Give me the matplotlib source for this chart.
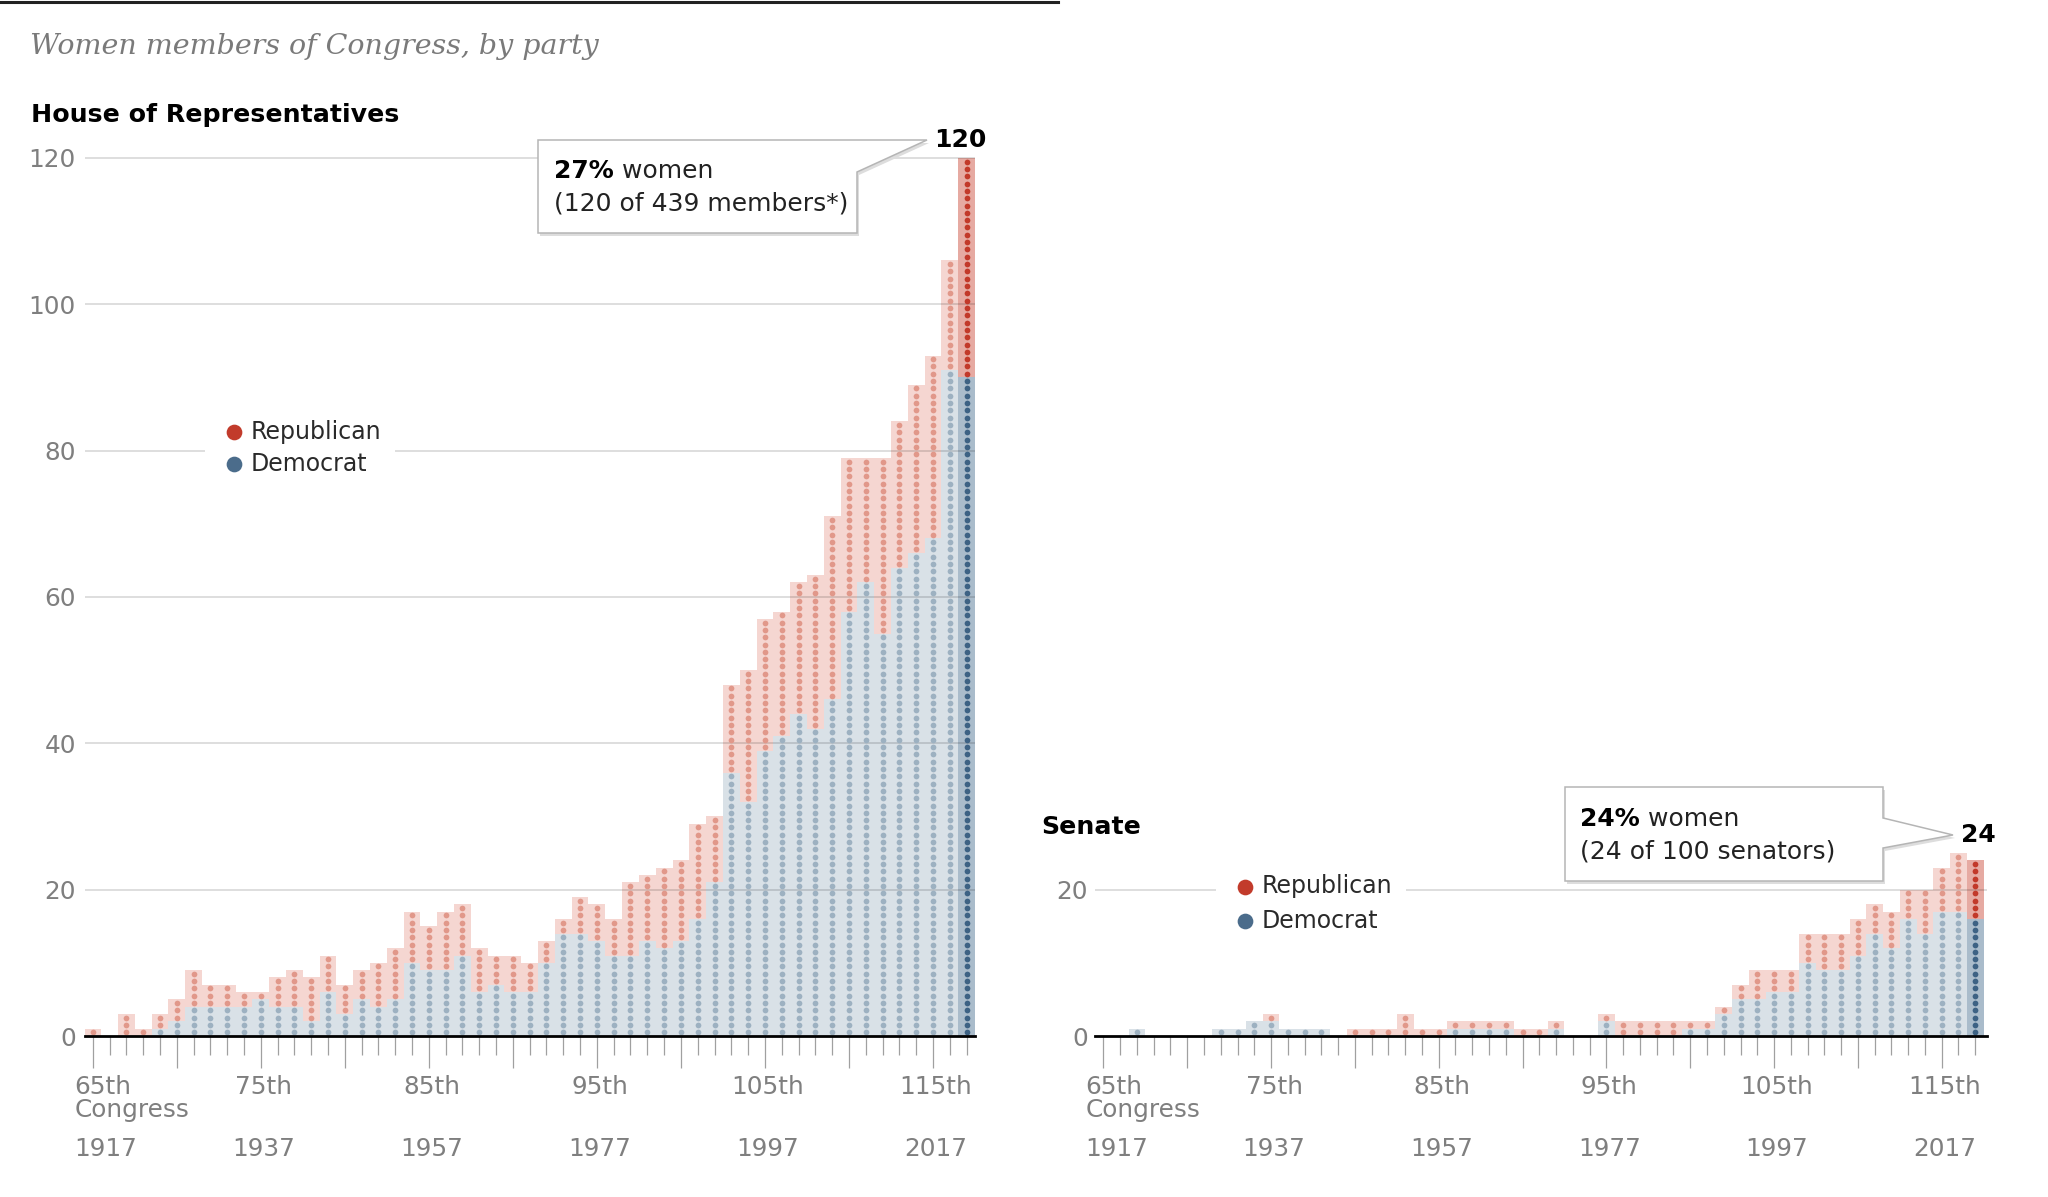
import matplotlib
matplotlib.use("Agg")
import matplotlib.pyplot as plt
from matplotlib.patches import Polygon, Rectangle
from matplotlib.lines import Line2D
import numpy as np

# ---------------- data ----------------
congresses = list(range(65, 118))
house_dem = [0, 0, 0, 0, 1, 2, 4, 4, 4, 4, 5, 4, 4, 2, 6, 3, 5, 4, 5, 10,
             9, 9, 11, 6, 7, 6, 6, 10, 14, 14, 13, 11, 11, 13, 12, 13, 16, 21, 36, 32,
             39, 41, 44, 42, 46, 58, 62, 55, 64, 66, 68, 91, 90]
house_rep = [1, 0, 3, 1, 2, 3, 5, 3, 3, 2, 1, 4, 5, 6, 5, 4, 4, 6, 7, 7,
             6, 8, 7, 6, 4, 5, 4, 3, 2, 5, 5, 5, 10, 9, 11, 11, 13, 9, 12, 18,
             18, 17, 18, 21, 25, 21, 17, 24, 20, 23, 25, 15, 30]
senate_dem = [0, 0, 1, 0, 0, 0, 0, 1, 1, 2, 2, 1, 1, 1, 0, 0, 0, 0, 0, 0,
              0, 1, 1, 1, 1, 0, 0, 1, 0, 0, 2, 0, 0, 0, 0, 1, 1, 3, 5, 5,
              6, 6, 10, 9, 9, 11, 14, 12, 16, 14, 17, 17, 16]
senate_rep = [0, 0, 0, 0, 0, 0, 0, 0, 0, 0, 1, 0, 0, 0, 0, 1, 1, 1, 3, 1,
              1, 1, 1, 1, 1, 1, 1, 1, 0, 0, 1, 2, 2, 2, 2, 1, 1, 1, 2, 4,
              3, 3, 4, 5, 5, 5, 4, 5, 4, 6, 6, 8, 8]
label_congresses = [65, 75, 85, 95, 105, 115]
label_ordinals = ["65th", "75th", "85th", "95th", "105th", "115th"]
label_years = ["1917", "1937", "1957", "1977", "1997", "2017"]
house_yticks = [0, 20, 40, 60, 80, 100, 120]
senate_yticks = [0, 20]

# ---------------- style ----------------
W, H, DPI = 2048, 1197, 100
PX = 7.317  # pixels per member on y

R_BG, R_DOT = "#f5d6d1", "#e1988a"
D_BG, D_DOT = "#d9e1e7", "#9db1c1"
R_BG_L, R_DOT_L = "#e6aaa2", "#c2392a"
D_BG_L, D_DOT_L = "#aabccb", "#3d6284"
LEG_R, LEG_D = "#c23b2b", "#4b6c8b"
GRAY = "#7f7f7f"
DOT_S = 17

plt.rcParams["font.family"] = ["DejaVu Sans"]

fig = plt.figure(figsize=(W / DPI, H / DPI), dpi=DPI)
fig.patch.set_facecolor("white")


def fx(x):
    return x / W


def fy(y):
    return 1 - y / H


def make_ax(left, right, xlim, ymax, yticks, ypad):
    base = 1036
    ax = fig.add_axes([fx(left), fy(base), (right - left) / W, ymax * PX / H])
    ax.set_xlim(*xlim)
    ax.set_ylim(0, ymax)
    for s in ax.spines.values():
        s.set_visible(False)
    ax.set_yticks(yticks)
    ax.set_yticklabels([str(v) for v in yticks])
    ax.tick_params(axis="y", length=0, pad=ypad, labelsize=17.8, labelcolor=GRAY)
    ax.set_xticks([c for c in congresses if (c - 65) % 5 == 0])
    ax.set_xticks(congresses, minor=True)
    ax.set_xticklabels([])
    ax.tick_params(axis="x", which="major", length=23, width=0.9, color="#a0a0a0")
    ax.tick_params(axis="x", which="minor", length=13.5, width=0.9, color="#a0a0a0")
    ax.set_facecolor("none")
    return ax


def draw_bars(ax, dem, rep):
    x = np.array(congresses)
    dem = np.array(dem)
    rep = np.array(rep)
    n = len(x)
    dbg = [D_BG] * (n - 1) + [D_BG_L]
    rbg = [R_BG] * (n - 1) + [R_BG_L]
    ax.bar(x, dem, width=1.0, color=dbg, linewidth=0, zorder=1)
    ax.bar(x, rep, bottom=dem, width=1.0, color=rbg, linewidth=0, zorder=1)
    for i, (xi, d, r) in enumerate(zip(x, dem, rep)):
        last = i == n - 1
        if d:
            ax.scatter(np.full(d, xi), np.arange(d) + 0.5, s=DOT_S, linewidths=0,
                       color=D_DOT_L if last else D_DOT, zorder=3)
        if r:
            ax.scatter(np.full(r, xi), np.arange(d, d + r) + 0.5, s=DOT_S, linewidths=0,
                       color=R_DOT_L if last else R_DOT, zorder=3)


def decorate(ax, yticks):
    for v in yticks[1:]:
        ax.axhline(v, color="black", alpha=0.17, lw=1.1, zorder=2)
    ax.axhline(0, color="black", lw=2.0, zorder=5, clip_on=False)
    for c, o, yr in zip(label_congresses, label_ordinals, label_years):
        first = c == congresses[0]
        dx = -18 if first else 3
        ha = "left" if first else "center"
        ax.annotate(o, xy=(c, 0), xycoords=("data", "axes fraction"),
                    xytext=(dx, -51), textcoords="offset pixels", ha=ha, va="center",
                    fontsize=17.8, color=GRAY)
        if first:
            ax.annotate("Congress", xy=(c, 0), xycoords=("data", "axes fraction"),
                        xytext=(dx, -74), textcoords="offset pixels", ha=ha, va="center",
                        fontsize=17.8, color=GRAY)
        ax.annotate(yr, xy=(c, 0), xycoords=("data", "axes fraction"),
                    xytext=(dx, -113), textcoords="offset pixels", ha=ha, va="center",
                    fontsize=17.8, color=GRAY)


# ---------------- House ----------------
axh = make_ax(85, 975, (64.54, 117.5), 121, house_yticks, 6.5)
draw_bars(axh, house_dem, house_rep)
decorate(axh, house_yticks)
axh.annotate(str(house_dem[-1] + house_rep[-1]), xy=(congresses[-1], 120),
             xytext=(-6, 18), textcoords="offset pixels", ha="center", va="center",
             fontsize=18, fontweight="bold", color="black", annotation_clip=False)

# ---------------- Senate ----------------
axs = make_ax(1095, 1987, (64.5, 117.7), 26, senate_yticks, 5.0)
draw_bars(axs, senate_dem, senate_rep)
decorate(axs, senate_yticks)
axs.annotate(str(senate_dem[-1] + senate_rep[-1]), xy=(congresses[-1], 24),
             xytext=(3, 25), textcoords="offset pixels", ha="center", va="center",
             fontsize=18, fontweight="bold", color="black", annotation_clip=False)

# ---------------- titles ----------------
fig.add_artist(Line2D([0, fx(1058)], [fy(1.5), fy(1.5)], color="#222222", lw=2.2,
                      transform=fig.transFigure))
fig.text(fx(30), fy(46), "Women members of Congress, by party", fontsize=20.5,
         family="DejaVu Serif", style="italic", color="#7a7a7a", va="center", ha="left")
fig.text(fx(31), fy(115), "House of Representatives", fontsize=18.2, fontweight="bold",
         color="black", va="center", ha="left")
fig.text(fx(1041), fy(827), "Senate", fontsize=18.2, fontweight="bold",
         color="black", va="center", ha="left")


# ---------------- legends ----------------
def legend(x0, x1, dot_x, y_r, y_d, cover_y):
    fig.add_artist(Rectangle((fx(x0), fy(cover_y + 6)), (x1 - x0) / W, 12 / H,
                             transform=fig.transFigure, facecolor="white",
                             edgecolor="none", zorder=5))
    for y, col, name in [(y_r, LEG_R, "Republican"), (y_d, LEG_D, "Democrat")]:
        fig.add_artist(Line2D([fx(dot_x)], [fy(y)], marker="o", ms=11.3, color=col,
                              markeredgewidth=0, linestyle="none",
                              transform=fig.transFigure, zorder=6))
        fig.text(fx(dot_x + 17), fy(y), name, fontsize=17, color="#2a2a2a",
                 va="center", ha="left", zorder=6)


legend(205, 395, 234, 431.5, 463.5, 1036 - 80 * PX)
legend(1216, 1406, 1245, 886.5, 920.5, 1036 - 20 * PX)


# ---------------- callout boxes ----------------
def callout(pts, lines):
    sh = [(x + 2, y + 3) for x, y in pts]
    fig.add_artist(Polygon([(fx(x), fy(y)) for x, y in sh], closed=True,
                           transform=fig.transFigure, facecolor="#dddddd",
                           edgecolor="none", zorder=7))
    fig.add_artist(Polygon([(fx(x), fy(y)) for x, y in pts], closed=True,
                           transform=fig.transFigure, facecolor="white",
                           edgecolor="#b5b5b5", lw=1.1, zorder=8))
    renderer = fig.canvas.get_renderer()
    for (tx, ty, bold, rest) in lines:
        x = fx(tx)
        if bold:
            t = fig.text(x, fy(ty), bold, fontsize=18, fontweight="bold", color="black",
                         va="center", ha="left", zorder=9)
            bb = t.get_window_extent(renderer)
            x = bb.x1 / W
        fig.text(x, fy(ty), rest, fontsize=18, color="#222222", va="center",
                 ha="left", zorder=9)


callout([(538, 140), (927, 140), (857, 172), (857, 233), (538, 233)],
        [(554, 171, "27%", " women"), (554, 204, None, "(120 of 439 members*)")])
callout([(1565, 787), (1883, 787), (1883, 818), (1953, 835), (1883, 848),
         (1883, 881), (1565, 881)],
        [(1580, 819, "24%", " women"), (1580, 851, None, "(24 of 100 senators)")])

fig.savefig("out.png", dpi=DPI, facecolor="white")
